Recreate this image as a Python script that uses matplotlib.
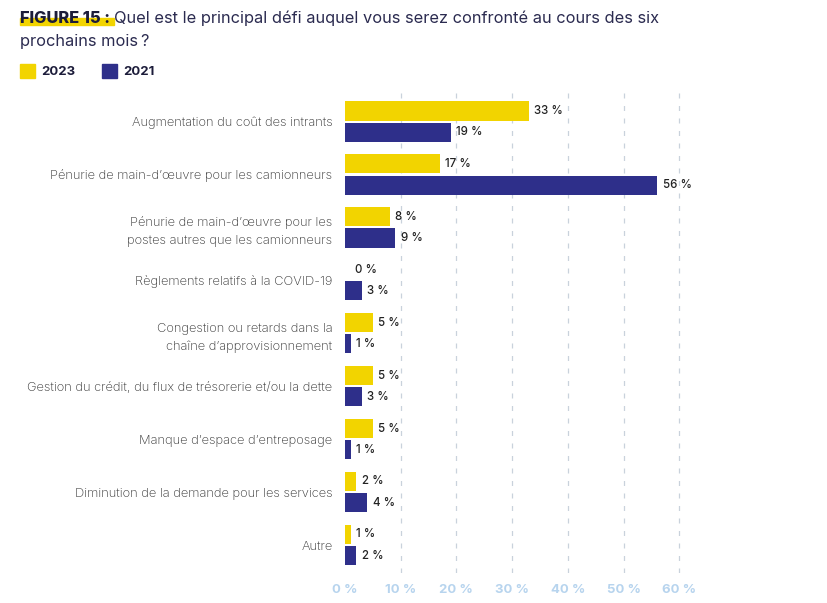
import matplotlib
matplotlib.use("Agg")
import matplotlib.pyplot as plt
from matplotlib.patches import Rectangle
import numpy as np

categories = [
    "Augmentation du coût des intrants",
    "Pénurie de main-d’œuvre pour les camionneurs",
    "Pénurie de main-d’œuvre pour les\npostes autres que les camionneurs",
    "Règlements relatifs à la COVID-19",
    "Congestion ou retards dans la\nchaîne d’approvisionnement",
    "Gestion du crédit, du flux de trésorerie et/ou la dette",
    "Manque d’espace d’entreposage",
    "Diminution de la demande pour les services",
    "Autre",
]
values_2023 = [33, 17, 8, 0, 5, 5, 5, 2, 1]
values_2021 = [19, 56, 9, 3, 1, 3, 1, 4, 2]
series_names = ["2023", "2021"]
x_ticks = [0, 10, 20, 30, 40, 50, 60]

YELLOW = "#F2D400"
NAVY = "#2E2F8A"
TEXT = "#2B2B50"
plt.rcParams["font.family"] = ["Inter", "DejaVu Sans"]

fig = plt.figure(figsize=(8.27, 6.03), dpi=100)
ax = fig.add_axes([345 / 827, 1 - 573 / 603, (696 - 345) / 827, (573 - 93) / 603])

y = np.arange(len(categories))
off = 0.2
h = 0.36
ax.barh(y - off, values_2023, height=h, color=YELLOW, zorder=3)
ax.barh(y + off, values_2021, height=h, color=NAVY, zorder=3)

for yi, v in zip(y - off, values_2023):
    ax.annotate(f"{v} %", (v, yi), xytext=(4 if v else 7, 0), textcoords="offset points",
                va="center", ha="left", fontsize=8.3, color="#222222", fontweight="medium")
for yi, v in zip(y + off, values_2021):
    ax.annotate(f"{v} %", (v, yi), xytext=(4, 0), textcoords="offset points",
                va="center", ha="left", fontsize=8.3, color="#222222", fontweight="medium")

ax.set_xlim(0, 63)
ax.set_ylim(8.53, -0.54)
ax.set_yticks(y)
ax.set_yticklabels(categories, fontsize=9.3, color="#333333", fontweight="light",
                   linespacing=1.6)
ax.tick_params(axis="y", length=0, pad=9)
ax.set_xticks(x_ticks)
ax.set_xticklabels([f"{t} %" for t in x_ticks], fontsize=9.5, color="#B7D4EE",
                   fontweight="bold")
ax.tick_params(axis="x", length=0, pad=8)
for s in ax.spines.values():
    s.set_visible(False)
for t in x_ticks[1:]:
    ax.axvline(t, color="#C9D2DC", linewidth=0.9, linestyle=(0, (4, 6)), zorder=1)

# title
fig.patches.append(Rectangle((20 / 827, 1 - 25 / 603), 94 / 827, 7 / 603,
                             transform=fig.transFigure, color=YELLOW, zorder=0))
t1 = fig.text(20 / 827, 1 - 23 / 603, "FIGURE 15 :", fontsize=11.8, fontweight="heavy",
              color="#1C1C3A", va="baseline", ha="left")
fig.canvas.draw()
bb = t1.get_window_extent()
fig.text((bb.x1 + 4) / 827, 1 - 23 / 603,
         "Quel est le principal défi auquel vous serez confronté au cours des six",
         fontsize=11.8, color=TEXT, va="baseline", ha="left")
fig.text(20 / 827, 1 - 46 / 603, "prochains mois\u202f?", fontsize=11.8, color=TEXT,
         va="baseline", ha="left")

# legend
for x0, col, name in [(20, YELLOW, series_names[0]), (102, NAVY, series_names[1])]:
    fig.patches.append(Rectangle((x0 / 827, 1 - 78 / 603), 15 / 827, 14 / 603,
                                 transform=fig.transFigure, color=col))
    fig.text((x0 + 21) / 827, 1 - 72 / 603, name, fontsize=9.5, fontweight="bold",
             color="#1C1C3A", va="center", ha="left")

fig.savefig("out.png", dpi=100)
